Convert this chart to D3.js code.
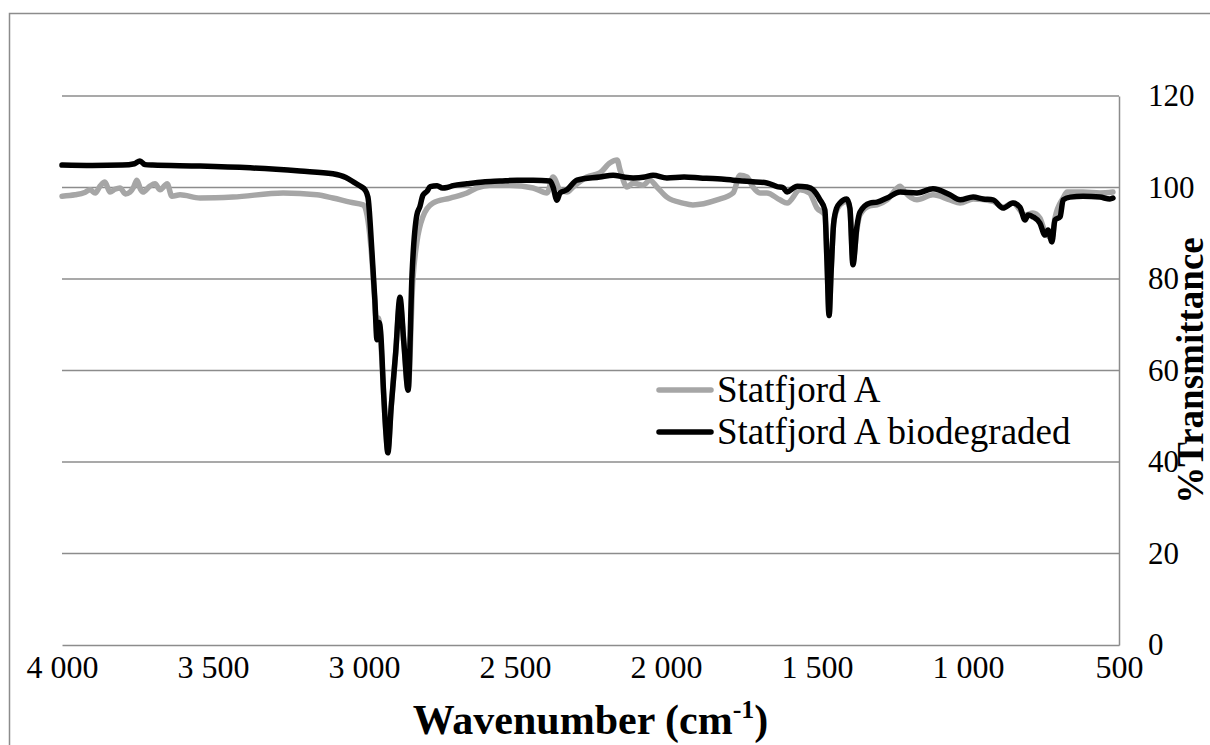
<!DOCTYPE html>
<html><head><meta charset="utf-8">
<script src="https://cdn.jsdelivr.net/npm/d3@7"></script>
<style>
html,body{margin:0;padding:0;background:#fff;}
svg{display:block;}
text{font-family:"Liberation Serif","Times New Roman",serif;fill:#000;}
</style></head>
<body>
<svg id="chart" width="1210" height="745"></svg>
<script>
// ---------- data ----------
const seriesNames = ["Statfjord A", "Statfjord A biodegraded"];
const xTicks = [4000, 3500, 3000, 2500, 2000, 1500, 1000, 500];
const yTicks = [0, 20, 40, 60, 80, 100, 120];

// Statfjord A biodegraded: [wavenumber, %T]
const biodegraded = [
  [4000,104.9],[3900,104.8],[3800,104.9],[3760,105.2],[3742,105.8],[3725,105.0],[3700,104.9],
  [3543,104.7],[3377,104.3],[3212,103.6],[3103,103.0],[3060,102.2],[3030,101.0],[3010,100.2],
  [2997,99.5],[2987,97.9],[2974,86.3],[2964,75.4],[2957,66.7],[2950,70.5],[2945,68.5],
  [2935,55],[2928,47],[2921,42],[2910,52],[2895,64],[2881,76],[2868,66],[2854,55.7],
  [2841,80.9],[2825,94.0],[2815,95.8],[2805,98.3],[2791,99.2],[2781,100.2],[2758,100.4],
  [2740,99.9],[2725,100.0],[2705,100.4],[2659,100.8],[2606,101.2],[2550,101.4],[2493,101.6],
  [2440,101.6],[2384,101.4],[2374,100.1],[2361,97.2],[2351,98.8],[2328,99.5],[2295,101.6],
  [2219,102.3],[2175,102.7],[2140,102.3],[2109,102.1],[2070,102.3],[2043,102.7],[1997,102.1],
  [1940,102.3],[1887,102.1],[1830,101.9],[1778,101.6],[1720,101.3],[1666,101.0],[1632,100.2],
  [1613,100.0],[1599,99.0],[1580,99.8],[1566,100.3],[1533,100.1],[1513,99.5],[1490,97.3],
  [1474,95.1],[1467,84],[1460,72],[1453,82],[1445,92],[1435,95.5],[1424,96.6],[1401,97.5],
  [1391,95.5],[1381,83.1],[1368,91.4],[1358,94.6],[1325,96.6],[1301,96.8],[1268,97.7],
  [1225,99.0],[1169,98.8],[1116,99.7],[1060,98.4],[1026,97.3],[983,97.9],[950,97.5],
  [917,97.3],[884,95.5],[851,96.6],[828,95.7],[811,92.9],[801,94.0],[785,93.6],[762,92.2],
  [745,89.6],[735,90.7],[722,88.1],[712,92.9],[695,93.6],[685,97.3],[662,97.9],[619,98.1],
  [563,97.9],[530,97.5],[520,97.7]
];

// Statfjord A: [wavenumber, %T]
const original = [
  [4000,98.1],[3957,98.4],[3925,98.9],[3907,99.5],[3890,98.8],[3874,100.3],[3858,101.2],
  [3841,99.0],[3825,99.6],[3808,99.9],[3790,98.6],[3775,99.0],[3762,100.2],[3752,101.6],
  [3740,99.6],[3732,99.0],[3709,100.3],[3692,100.8],[3675,99.5],[3660,100.4],[3652,100.8],
  [3636,98.1],[3609,98.4],[3543,97.7],[3434,97.9],[3268,98.8],[3156,98.4],[3103,97.7],
  [3046,96.8],[3003,96.2],[2990,94],[2977,87],[2966,77],[2960,71.5],[2952,71.5],[2946,68],
  [2935,55],[2928,47],[2921,42.5],[2910,52],[2895,64],[2881,75],[2868,66],[2854,56],
  [2838,80],[2825,88],[2805,93.6],[2772,96.6],[2715,97.7],[2659,98.8],[2626,99.9],
  [2583,100.5],[2517,100.5],[2440,99.9],[2394,98.8],[2374,102.3],[2351,99.5],[2328,99.0],
  [2308,100.1],[2262,102.3],[2219,103.2],[2185,105.4],[2162,106.0],[2152,103.8],[2129,100.1],
  [2109,101.0],[2076,100.5],[2053,101.6],[2030,100.1],[1997,97.9],[1944,96.6],[1911,96.2],
  [1831,97.3],[1778,98.8],[1755,102.7],[1732,102.3],[1712,100.1],[1689,98.8],[1666,98.8],
  [1623,97.3],[1599,96.6],[1556,99.5],[1525,98.8],[1500,95.5],[1474,94],[1467,84],[1460,72],
  [1453,82],[1445,92],[1440,94],[1424,96.2],[1401,97.0],[1391,95.1],[1381,83.7],[1368,90.7],
  [1358,94],[1325,96],[1301,96.2],[1268,97.3],[1225,100.3],[1209,99.0],[1169,97.3],
  [1116,98.4],[1060,97.3],[1026,96.6],[983,97.5],[917,97],[884,95.7],[851,96.6],[811,94],
  [785,94.4],[762,93.3],[745,90.3],[722,89],[712,93.3],[685,97.7],[672,99.0],[619,99.0],
  [563,98.8],[520,99.0]
];

// ---------- layout ----------
const svg = d3.select("#chart");
const plot = {left: 62, right: 1119, top: 96, bottom: 645};
const gridColor = "#8c8c8c";

const x = d3.scaleLinear().domain([4000, 500]).range([plot.left, plot.right]);
const y = d3.scaleLinear().domain([0, 120]).range([plot.bottom, plot.top]);

// outer chart border
svg.append("rect").attr("x", 9.5).attr("y", 13.5).attr("width", 1230).attr("height", 760)
  .attr("fill", "none").attr("stroke", gridColor).attr("stroke-width", 1.5);

// gridlines
svg.append("g").selectAll("line").data(yTicks.filter(d => d > 0)).join("line")
  .attr("x1", plot.left).attr("x2", plot.right)
  .attr("y1", d => y(d)).attr("y2", d => y(d))
  .attr("stroke", gridColor).attr("stroke-width", 1.5);

const loc = d3.formatLocale({decimal: ",", thousands: "\u00a0", grouping: [3], currency: ["", ""]});
const fmt = loc.format(",d");

// x axis
const xAxis = svg.append("g").attr("transform", `translate(0,${plot.bottom})`)
  .call(d3.axisBottom(x).tickValues(xTicks).tickFormat(fmt).tickSize(0).tickPadding(10));
xAxis.select(".domain").attr("stroke", gridColor).attr("stroke-width", 1.5);
xAxis.selectAll("text").attr("font-size", 32).attr("font-family", "Liberation Serif");

// y axis (right)
const yAxis = svg.append("g").attr("transform", `translate(${plot.right},0)`)
  .call(d3.axisRight(y).tickValues(yTicks).tickSize(0).tickPadding(29));
yAxis.select(".domain").attr("stroke", gridColor).attr("stroke-width", 1.5);
yAxis.selectAll("text").attr("font-size", 31).attr("font-family", "Liberation Serif");

// lines
const colors = ["#a6a6a6", "#000000"];
const sorted = arr => arr.slice().sort((a, b) => b[0] - a[0]);
const line = d3.line().x(d => x(d[0])).y(d => y(d[1])).curve(d3.curveMonotoneX);
[original, biodegraded].forEach((s, i) => {
  svg.append("path").datum(sorted(s)).attr("d", line)
    .attr("fill", "none").attr("stroke", colors[i]).attr("stroke-width", 5.5)
    .attr("stroke-linejoin", "round").attr("stroke-linecap", "round");
});

// legend
const legend = svg.append("g");
seriesNames.forEach((n, i) => {
  const ly = 390 + i * 42;
  legend.append("line").attr("x1", 659).attr("x2", 711).attr("y1", ly).attr("y2", ly)
    .attr("stroke", colors[i]).attr("stroke-width", 5.5).attr("stroke-linecap", "round");
  legend.append("text").attr("x", 717).attr("y", ly + 12).attr("font-size", 37).text(n);
});

// axis titles
const xt = svg.append("text").attr("x", (plot.left + plot.right) / 2).attr("y", 734)
  .attr("text-anchor", "middle").attr("font-size", 42).attr("font-weight", "bold");
xt.append("tspan").text("Wavenumber (cm");
xt.append("tspan").attr("font-size", 26).attr("dy", -16).text("-1");
xt.append("tspan").attr("dy", 16).text(")");

svg.append("text").attr("transform", `translate(1203,${(plot.top + plot.bottom) / 2}) rotate(-90)`)
  .attr("text-anchor", "middle").attr("font-size", 37).attr("font-weight", "bold").text("%Transmittance");
</script>
</body></html>
